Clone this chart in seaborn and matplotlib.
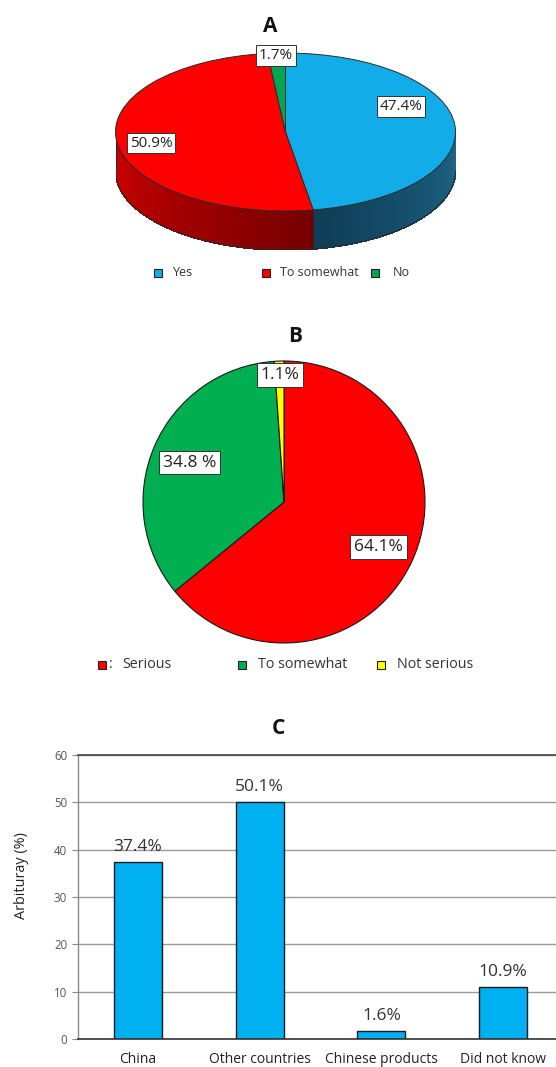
import numpy as np
import matplotlib
matplotlib.use('Agg')
import matplotlib.pyplot as plt
import seaborn as sns
import pandas as pd
from matplotlib.patches import Rectangle
from matplotlib.collections import PolyCollection
from matplotlib.colors import to_rgb

# ---------------- data ----------------
a_labels = ["Yes", "To somewhat", "No"]
a_values = [47.4, 50.9, 1.7]

b_labels = ["Serious", "To somewhat", "Not serious"]
b_values = [64.1, 34.8, 1.1]
b_texts = ["64.1%", "34.8 %", "1.1%"]

c_categories = ["China", "Other countries", "Chinese products", "Did not know"]
c_values = [37.4, 50.1, 1.6, 10.9]
c_yticks = [0, 10, 20, 30, 40, 50, 60]

# ---------------- setup ----------------
sns.set_theme(style="white")
plt.rcParams['font.family'] = ['Open Sans', 'DejaVu Sans']

W, H = 556, 1067
fig = plt.figure(figsize=(W / 100, H / 100), dpi=100)
fig.patch.set_facecolor('white')


def fx(px):
    return px / W


def fy(py):
    return 1 - py / H


def legend_item(xsq, ysq, size, color, label, xtext, fontsize, extra=None):
    fig.add_artist(Rectangle((fx(xsq - size / 2), fy(ysq + size / 2)), size / W, size / H,
                             transform=fig.transFigure, facecolor=color,
                             edgecolor='#222222', linewidth=0.8))
    if extra:
        fig.text(fx(xsq + size / 2 + 3), fy(ysq), extra, ha='left', va='center',
                 fontsize=fontsize, color='#333333')
    fig.text(fx(xtext), fy(ysq), label, ha='left', va='center', fontsize=fontsize,
             color='#333333')


def lerp_color(c1, c2, s):
    a = np.array(to_rgb(c1))
    b = np.array(to_rgb(c2))
    return tuple(a + (b - a) * s)


box = dict(boxstyle='square,pad=0.18', facecolor='white', edgecolor='#333333', linewidth=0.7)

# ---------------- Panel A : 3D-like pie ----------------
cxA, cyA, rxA, ryA, depA = 285.5, 132, 170, 79, 39
d = depA / ryA
axA = fig.add_axes([fx(cxA - rxA), fy(cyA + ryA + depA), 2 * rxA / W, (2 * ryA + depA) / H])
colorsA = ['#12ACE8', '#FF0000', '#00A651']
side_cols = [('#0e3d57', '#1f6688'), ('#d40000', '#760000'), ('#005a2c', '#005a2c')]
wedgesA, _ = axA.pie(a_values, colors=colorsA, startangle=90, counterclock=False,
                     wedgeprops=dict(edgecolor='#2b2b2b', linewidth=0.7), frame=False)
for w in wedgesA:
    w.set_zorder(3)

polys, fcs = [], []
for i, w in enumerate(wedgesA):
    t1, t2 = w.theta1, w.theta2
    n = max(int(abs(t2 - t1)), 2)
    ts = np.linspace(t1, t2, n + 1)
    mids = (ts[:-1] + ts[1:]) / 2
    vis = np.sin(np.radians(mids)) < 0
    if not vis.any():
        continue
    tmin, tmax = mids[vis].min(), mids[vis].max()
    for a, b, m, v in zip(ts[:-1], ts[1:], mids, vis):
        if not v:
            continue
        ra, rb = np.radians(a), np.radians(b)
        polys.append([(np.cos(ra), np.sin(ra)), (np.cos(rb), np.sin(rb)),
                      (np.cos(rb), np.sin(rb) - d), (np.cos(ra), np.sin(ra) - d)])
        s = (m - tmin) / (tmax - tmin) if tmax > tmin else 0
        fcs.append(lerp_color(side_cols[i][0], side_cols[i][1], s))
pc = PolyCollection(polys, facecolors=fcs, edgecolors=fcs, linewidths=0.6, zorder=1,
                    antialiaseds=False)
axA.add_collection(pc)

tt = np.radians(np.linspace(180, 360, 200))
axA.plot(np.cos(tt), np.sin(tt) - d, color='#2b2b2b', lw=0.8, zorder=2)
axA.plot([-1, -1], [0, -d], color='#2b2b2b', lw=0.8, zorder=2)
axA.plot([1, 1], [0, -d], color='#2b2b2b', lw=0.8, zorder=2)
for w in wedgesA:
    for th in (w.theta1, w.theta2):
        r = np.radians(th)
        if np.sin(r) < 0:
            axA.plot([np.cos(r), np.cos(r)], [np.sin(r), np.sin(r) - d],
                     color='#2b2b2b', lw=0.7, zorder=2)

axA.set_aspect('auto')
axA.set_xlim(-1, 1)
axA.set_ylim(-1 - d, 1)
axA.axis('off')

labA_pos = [(0.68, 0.32), (-0.79, -0.14), (-0.057, 0.97)]
for v, (x, y) in zip(a_values, labA_pos):
    axA.text(x, y, f"{v}%", ha='center', va='center', fontsize=11, color='#222222',
             bbox=box, zorder=5)

fig.text(fx(270), fy(27), 'A', ha='center', va='center', fontsize=15, fontweight='bold',
         color='#111111')

legA_sq = [158, 266, 375]
legA_tx = [173, 280, 393]
for lab, col, xs, xt in zip(a_labels, colorsA, legA_sq, legA_tx):
    legend_item(xs, 273, 8, col, lab, xt, 9)

# ---------------- Panel B : pie ----------------
cxB, cyB, rB = 284, 502, 141
axB = fig.add_axes([fx(cxB - rB), fy(cyB + rB), 2 * rB / W, 2 * rB / H])
colorsB = ['#FF0000', '#00B050', '#FFFF00']
axB.pie(b_values, colors=colorsB, startangle=90, counterclock=False,
        wedgeprops=dict(edgecolor='#1a1a1a', linewidth=0.8), frame=False)
axB.set_aspect('auto')
axB.set_xlim(-1, 1)
axB.set_ylim(-1, 1)
axB.axis('off')

labB_pos = [(0.67, -0.32), (-0.67, 0.28), (-0.03, 0.90)]
for t, (x, y) in zip(b_texts, labB_pos):
    axB.text(x, y, t, ha='center', va='center', fontsize=12.5, color='#222222',
             bbox=dict(boxstyle='square,pad=0.22', facecolor='white', edgecolor='#333333',
                       linewidth=0.7), zorder=5)

fig.text(fx(295), fy(337), 'B', ha='center', va='center', fontsize=15, fontweight='bold',
         color='#111111')

legB_sq = [102, 242, 381]
legB_tx = [122, 258, 397]
for k, (lab, col, xs, xt) in enumerate(zip(b_labels, colorsB, legB_sq, legB_tx)):
    legend_item(xs, 665, 8, col, lab, xt, 10.3, extra=':' if k == 0 else None)

# ---------------- Panel C : bar chart ----------------
axC = fig.add_axes([fx(78), fy(1039), (564 - 78) / W, (1039 - 755) / H])
df = pd.DataFrame({'category': c_categories, 'value': c_values})
sns.barplot(data=df, x='category', y='value', ax=axC, color='#00B0F0', saturation=1,
            width=0.394, edgecolor='#1a1a1a', linewidth=1.0)
axC.set_xlim(-0.493, 3.5)
axC.set_ylim(0, 60)
axC.set_yticks(c_yticks)
axC.grid(axis='y', color='#9a9a9a', linewidth=1.0)
axC.set_axisbelow(True)
axC.set_xlabel('')
axC.set_ylabel('')
for side in ['top', 'bottom', 'left', 'right']:
    axC.spines[side].set_visible(True)
axC.spines['top'].set_color('#444444')
axC.spines['top'].set_linewidth(1.2)
axC.spines['bottom'].set_color('#333333')
axC.spines['bottom'].set_linewidth(1.2)
axC.spines['left'].set_color('#8a8a8a')
axC.spines['left'].set_linewidth(1.0)
axC.spines['right'].set_visible(False)
axC.tick_params(axis='y', left=True, length=4.3, width=0.8, color='#888888', labelsize=8.3,
                labelcolor='#555555', pad=3.5)
axC.tick_params(axis='x', bottom=False, length=0, labelsize=10, labelcolor='#222222', pad=9.5)
axC.bar_label(axC.containers[0], labels=[f"{v}%" for v in c_values], padding=5,
              fontsize=12.5, color='#333333')

fig.text(fx(22), fy(876), 'Arbituray (%)', rotation=90, ha='center', va='center',
         fontsize=10.4, color='#222222')
fig.text(fx(278), fy(728), 'C', ha='center', va='center', fontsize=15, fontweight='bold',
         color='#111111')

fig.savefig('out.png', dpi=100, facecolor='white')
